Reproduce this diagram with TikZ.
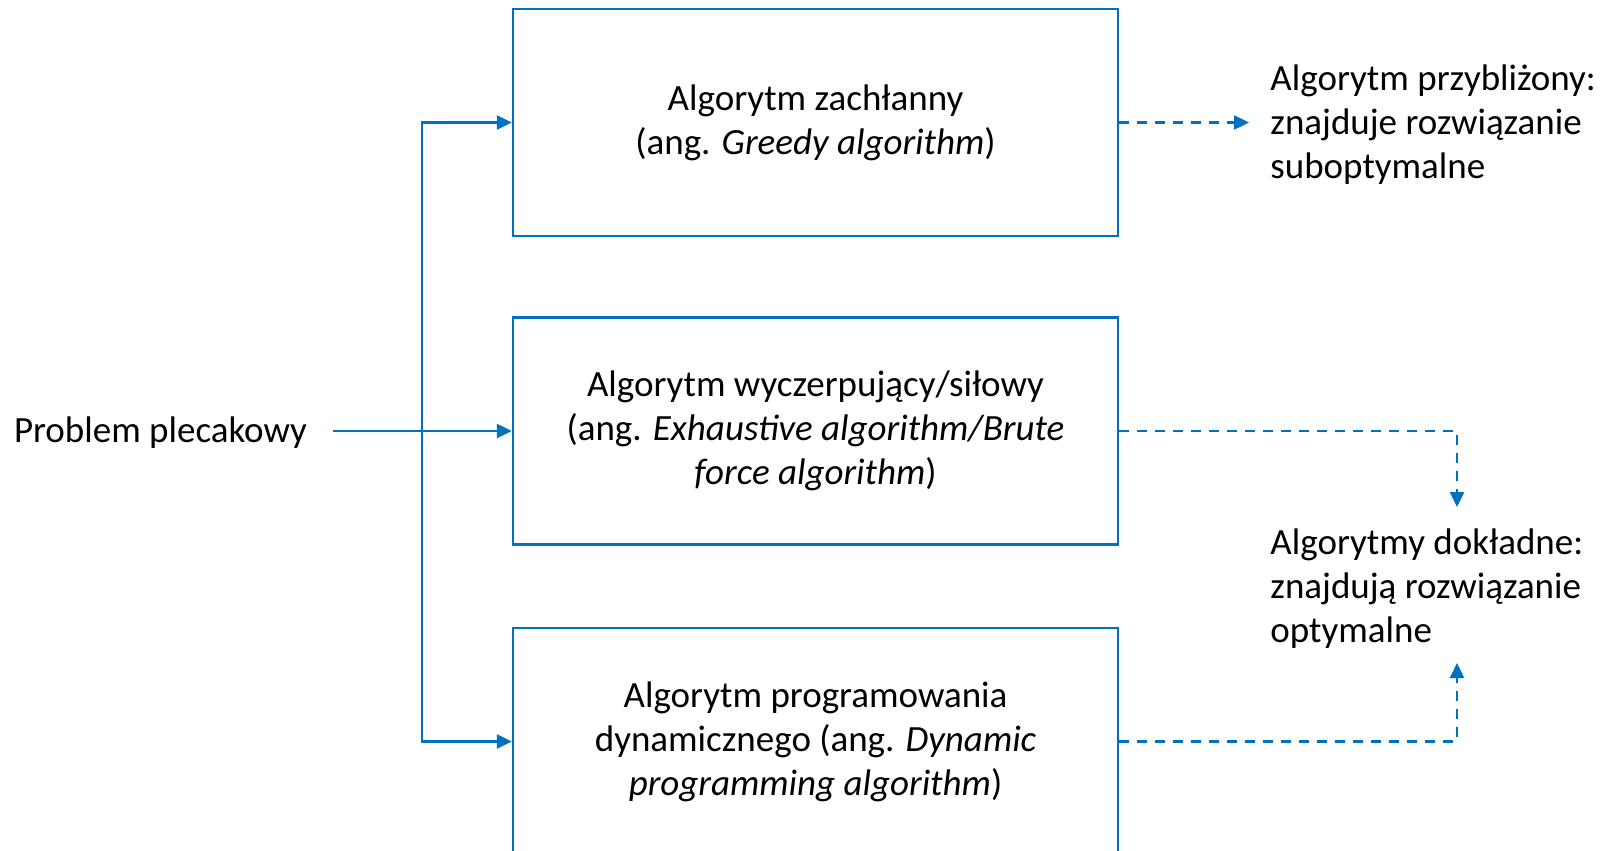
\documentclass[tikz,border=0pt]{standalone}
\usepackage{fontspec}
\setmainfont{Carlito}
\usetikzlibrary{arrows.meta}
\definecolor{lineblue}{HTML}{0070C0}

\begin{document}
\begin{tikzpicture}[x=0.5pt,y=-0.5pt,
  font=\fontsize{18.5}{22}\selectfont,
  algo box/.style={draw=lineblue,line width=1.2pt,align=center,minimum width=302.5pt,minimum height=113.5pt,inner sep=0pt},
  note/.style={align=left,anchor=west,inner xsep=10.5pt},
  link/.style={lineblue,line width=1.2pt,-{Triangle[length=7.5pt,width=7pt]}},
  dash link/.style={link,dash pattern=on 5pt off 4pt}]

  \useasboundingbox (0,0) rectangle (1606,851);

  \node[inner xsep=13pt] (prob) at (160.5,433){Problem plecakowy};
  \node[algo box] (box1) at (815.5,122.5){Algorytm zachłanny\\(ang. \textit{Greedy algorithm})};
  \node[algo box] (box2) at (815.5,431){Algorytm wyczerpujący/siłowy\\(ang. \textit{Exhaustive algorithm/Brute}\\\textit{force algorithm})};
  \node[algo box] (box3) at (815.5,741.5){Algorytm programowania\\dynamicznego (ang. \textit{Dynamic}\\\textit{programming algorithm})};
  \node[note] (approx) at (1249,125){Algorytm przybliżony:\\znajduje rozwiązanie\\suboptymalne};
  \node[note] (exact) at (1249,589){Algorytmy dokładne:\\znajdują rozwiązanie\\optymalne};

  \coordinate (trunk) at (422,431);
  \coordinate (down) at (1457,507);
  \coordinate (up) at (1457,663);

  % wejscie do trzech algorytmow
  \draw[link] (prob.east |- trunk) -- (box2.west);
  \draw[link] (trunk) |- (box1.west);
  \draw[link] (trunk) |- (box3.west);

  % wyniki
  \draw[dash link] (box1.east) -- (approx.west |- box1.east);
  \draw[dash link] (box2.east) -| (down);
  \draw[dash link] (box3.east) -| (up);
\end{tikzpicture}
\end{document}
